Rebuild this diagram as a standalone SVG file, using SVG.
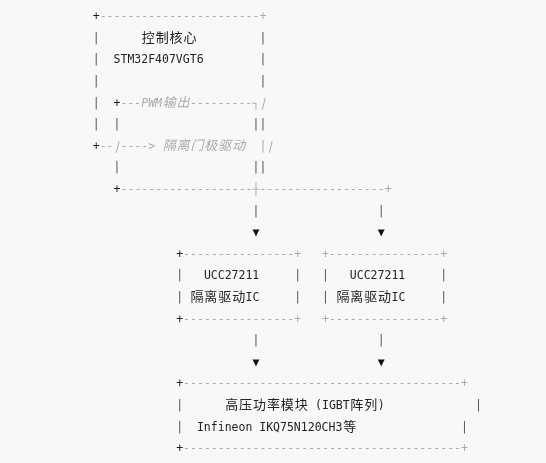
<svg xmlns="http://www.w3.org/2000/svg" width="546" height="463" viewBox="0 0 546 463">
<defs>
<filter id="gray" x="0" y="0" width="1" height="1"><feOffset dx="0" dy="0"/></filter>
</defs>
<style>
text{font-family:"DejaVu Sans Mono","Noto Sans CJK SC",monospace;font-size:11.5px;fill:#222}
.c{font-family:"Noto Sans CJK SC","DejaVu Sans Mono",sans-serif;font-size:13px}
.m{text-anchor:middle}
.k{fill:#1a1a1a}
.d{fill:#aaa}
.b{fill:#555}
.g{fill:#aaa;font-style:italic}
.s{fill:#aaa}
.a{fill:#111}
</style>
<rect width="546" height="463" fill="#f8f8f8"/>
<g filter="url(#gray)">
<rect width="546" height="463" fill="#f8f8f8"/>
<g id="controller">
  <text class="k m" x="96.2" y="20.2">+</text>
  <text class="d" x="99.65" y="20.2" textLength="159.85" lengthAdjust="spacing">-----------------------</text>
  <text class="d m" x="263" y="20.2">+</text>

  <text class="b m" x="96.2" y="41.8">|</text>
  <text class="c m" x="148.3 162.2 176.1 190" y="41.8">控制核心</text>
  <text class="b m" x="263" y="41.8">|</text>

  <text class="b m" x="96.2" y="63.4">|</text>
  <text x="113.55" y="63.4">STM32F407VGT6</text>
  <text class="b m" x="263" y="63.4">|</text>

  <text class="b m" x="96.2" y="85">|</text>
  <text class="b m" x="263" y="85">|</text>

  <text class="b m" x="96.2" y="106.6">|</text>
  <text class="k m" x="117" y="106.6">+</text>
  <text class="g" x="120.5" y="106.6">---PWM</text>
  <text class="g c m" x="169.15 183.05" y="106.6">输出</text>
  <text class="g" x="190" y="106.6" textLength="62.55" lengthAdjust="spacing">---------</text>
  <text class="d m" x="256" y="106.6">┐</text>
  <text class="s m" transform="translate(263,106.6) skewX(-14)">|</text>

  <text class="b m" x="96.2" y="128.2">|</text>
  <text class="b m" x="117" y="128.2">|</text>
  <text class="b m" x="256" y="128.2">|</text>
  <text class="b m" x="263" y="128.2">|</text>

  <text class="k m" x="96.2" y="149.8">+</text>
  <text class="d" x="99.65" y="149.8">--</text>
  <text class="s m" transform="translate(117,149.8) skewX(-14)">|</text>
  <text class="d" x="120.5" y="149.8">----&gt;</text>
  <text class="g c m" x="169.15 183.05 196.95 210.85 224.75 238.65" y="149.8">隔离门极驱动</text>
  <text class="d m" x="263" y="149.8">|</text>
  <text class="s m" transform="translate(269.9,149.8) skewX(-14)">|</text>

  <text class="b m" x="117" y="171.4">|</text>
  <text class="b m" x="256" y="171.4">|</text>
  <text class="b m" x="263" y="171.4">|</text>

  <text class="k m" x="117" y="193">+</text>
  <text class="d" x="120.5" y="193" textLength="132.05" lengthAdjust="spacing">-------------------</text>
</g>

<g id="connectors">
  <text class="d m" x="256" y="193">┼</text>
  <text class="d" x="259.5" y="193" textLength="125.1" lengthAdjust="spacing">------------------</text>
  <text class="d m" x="388.1" y="193">+</text>

  <text class="b m" x="256" y="214.6">|</text>
  <text class="b m" x="381.1" y="214.6">|</text>
  <text class="a m" x="256" y="236.2">▼</text>
  <text class="a m" x="381.1" y="236.2">▼</text>

  <text class="b m" x="256" y="344.2">|</text>
  <text class="b m" x="381.1" y="344.2">|</text>
  <text class="a m" x="256" y="365.8">▼</text>
  <text class="a m" x="381.1" y="365.8">▼</text>
</g>

<g id="ucc1">
  <text class="k m" x="179.6" y="257.8">+</text>
  <text class="d" x="183.05" y="257.8" textLength="111.2" lengthAdjust="spacing">----------------</text>
  <text class="d m" x="297.7" y="257.8">+</text>

  <text class="b m" x="179.6" y="279.4">|</text>
  <text x="203.9" y="279.4">UCC27211</text>
  <text class="b m" x="297.7" y="279.4">|</text>

  <text class="b m" x="179.6" y="301">|</text>
  <text class="c m" x="196.95 210.85 224.75 238.65" y="301">隔离驱动</text>
  <text x="245.6" y="301">IC</text>
  <text class="b m" x="297.7" y="301">|</text>

  <text class="k m" x="179.6" y="322.6">+</text>
  <text class="d" x="183.05" y="322.6" textLength="111.2" lengthAdjust="spacing">----------------</text>
  <text class="d m" x="297.7" y="322.6">+</text>
</g>

<g id="ucc2">
  <text class="d m" x="325.5" y="257.8">+</text>
  <text class="d" x="329" y="257.8" textLength="111.2" lengthAdjust="spacing">----------------</text>
  <text class="d m" x="443.7" y="257.8">+</text>

  <text class="b m" x="325.5" y="279.4">|</text>
  <text x="349.85" y="279.4">UCC27211</text>
  <text class="b m" x="443.7" y="279.4">|</text>

  <text class="b m" x="325.5" y="301">|</text>
  <text class="c m" x="342.9 356.8 370.7 384.6" y="301">隔离驱动</text>
  <text x="391.55" y="301">IC</text>
  <text class="b m" x="443.7" y="301">|</text>

  <text class="d m" x="325.5" y="322.6">+</text>
  <text class="d" x="329" y="322.6" textLength="111.2" lengthAdjust="spacing">----------------</text>
  <text class="d m" x="443.7" y="322.6">+</text>
</g>

<g id="igbt">
  <text class="k m" x="179.6" y="387.4">+</text>
  <text class="d" x="183.05" y="387.4" textLength="278" lengthAdjust="spacing">----------------------------------------</text>
  <text class="d m" x="464.5" y="387.4">+</text>

  <text class="b m" x="179.6" y="409">|</text>
  <text class="c m" x="231.7 245.6 259.5 273.4 287.3 301.2" y="409">高压功率模块</text>
  <text x="315.1" y="409">(IGBT</text>
  <text class="c m" x="356.8 370.7" y="409">阵列</text>
  <text x="377.65" y="409">)</text>
  <text class="b m" x="478.4" y="409">|</text>

  <text class="b m" x="179.6" y="430.6">|</text>
  <text x="196.95" y="430.6">Infineon IKQ75N120CH3</text>
  <text class="c m" x="349.85" y="430.6">等</text>
  <text class="b m" x="464.5" y="430.6">|</text>

  <text class="k m" x="179.6" y="452.2">+</text>
  <text class="d" x="183.05" y="452.2" textLength="278" lengthAdjust="spacing">----------------------------------------</text>
  <text class="d m" x="464.5" y="452.2">+</text>
</g>
</g>
</svg>
